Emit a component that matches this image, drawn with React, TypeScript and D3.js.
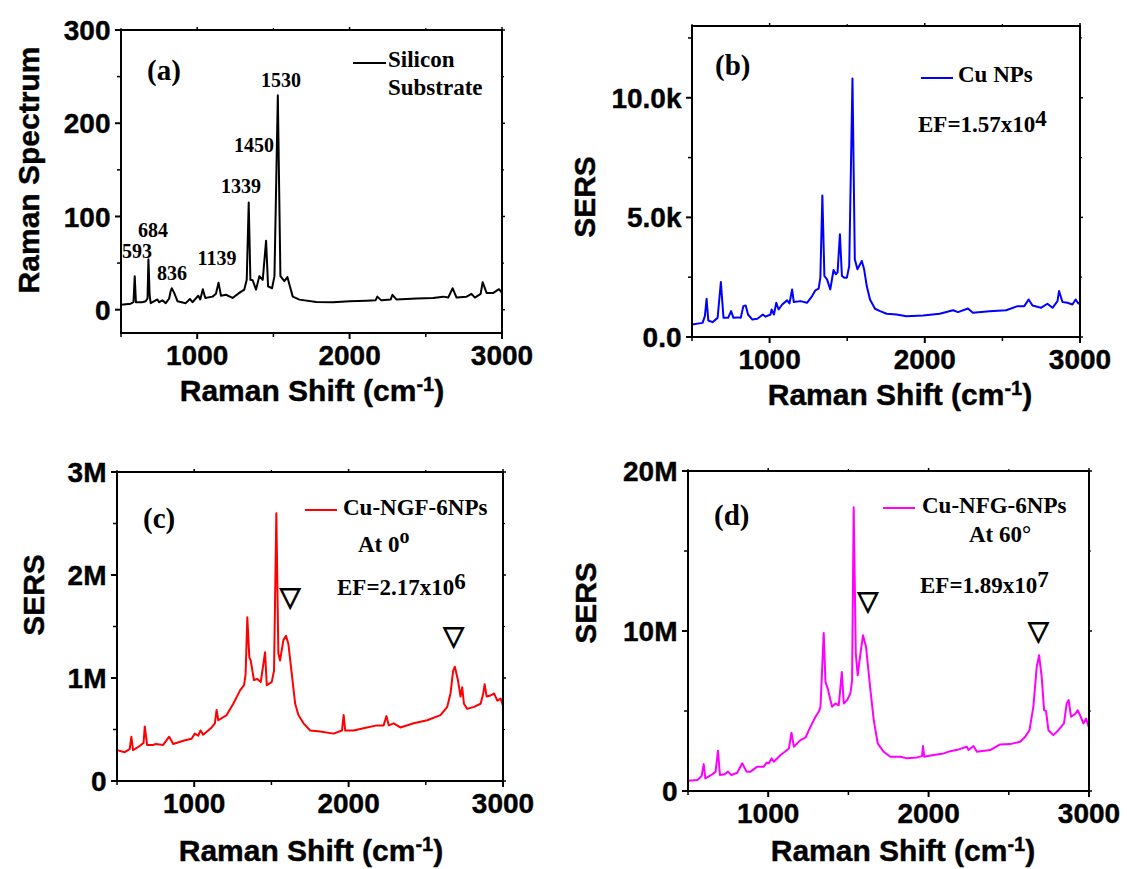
import * as d3 from "d3";

// Raman shift axis, shared by all four panels
const shiftDomain: [number, number] = [500, 3000];
const shiftTicks = [1000, 2000, 3000];
const shiftMinor = [500, 1500, 2500];

// (a) bare silicon substrate, counts
const siliconSpectrum: [number, number][] = [
  [500, 5.4], [564, 6.5], [582, 8], [590, 36], [598, 8], [640, 8], [662, 9], [674, 12],
  [680, 54], [688, 15], [695, 7], [739, 11], [750, 8], [772, 10], [794, 7], [816, 12],
  [826, 20], [833, 23], [849, 18], [871, 9], [925, 7], [952, 11.5], [969, 8], [1007, 15],
  [1020, 11], [1037, 22], [1053, 12.6], [1101, 14], [1123, 17], [1140, 29], [1156, 15],
  [1189, 16], [1232, 12.6], [1276, 18], [1309, 21.6], [1325, 32], [1338, 115], [1349, 32],
  [1364, 31.6], [1386, 21.6], [1408, 36], [1430, 32], [1452, 74], [1465, 25], [1491, 23],
  [1507, 36], [1529, 230], [1546, 36], [1572, 30.6], [1592, 35], [1605, 27], [1627, 14],
  [1671, 10.8], [1781, 8.3], [1890, 8], [2000, 9], [2110, 9.7], [2170, 10], [2182, 14],
  [2208, 10], [2270, 11], [2281, 16], [2307, 11], [2439, 12], [2548, 12.6], [2614, 14],
  [2647, 13], [2676, 23], [2702, 13], [2768, 14], [2800, 17], [2822, 13], [2860, 17],
  [2873, 29.5], [2899, 18], [2943, 18], [2980, 22], [3000, 18],
];

// (b) Cu NPs, counts
const cuSpectrum: [number, number][] = [
  [500, 520], [568, 590], [583, 870], [594, 1600], [605, 690], [632, 620], [665, 800],
  [686, 2300], [703, 800], [733, 800], [752, 1080], [767, 800], [793, 820], [814, 800],
  [831, 1290], [846, 1320], [861, 940], [889, 730], [921, 760], [957, 940], [974, 850],
  [1006, 940], [1013, 1150], [1028, 940], [1043, 1430], [1058, 1150], [1081, 1360],
  [1113, 1530], [1128, 1400], [1145, 1990], [1156, 1460], [1199, 1500], [1241, 1430],
  [1274, 1710], [1295, 1950], [1316, 2020], [1327, 2480], [1340, 5910], [1353, 2550],
  [1370, 2410], [1391, 1990], [1412, 2800], [1427, 2620], [1438, 2700], [1453, 4300],
  [1466, 2550], [1481, 2480], [1498, 2480], [1513, 2970], [1534, 10810], [1549, 3250],
  [1566, 2830], [1594, 3180], [1609, 2830], [1626, 2130], [1647, 1570], [1679, 1180],
  [1712, 1080], [1754, 970], [1818, 940], [1882, 870], [1989, 900], [2096, 970],
  [2182, 1120], [2214, 1040], [2278, 1190], [2310, 1010], [2417, 1080], [2524, 1120],
  [2598, 1290], [2641, 1290], [2669, 1570], [2694, 1320], [2748, 1220], [2790, 1390],
  [2823, 1220], [2855, 1500], [2865, 1920], [2887, 1460], [2919, 1430], [2951, 1360],
  [2972, 1570], [2989, 1400], [3000, 1420],
];

// (c) Cu-NGF-6NPs at 0 deg, millions
const ngfSpectrum: [number, number][] = [
  [500, 0.3], [550, 0.28], [582, 0.31], [593, 0.43], [604, 0.3], [647, 0.34], [672, 0.37],
  [680, 0.53], [695, 0.35], [734, 0.35], [751, 0.36], [799, 0.35], [838, 0.43], [864, 0.36],
  [929, 0.39], [983, 0.41], [1004, 0.46], [1026, 0.44], [1041, 0.49], [1058, 0.45],
  [1113, 0.52], [1134, 0.56], [1145, 0.69], [1156, 0.59], [1210, 0.64], [1253, 0.75],
  [1297, 0.88], [1323, 0.93], [1333, 1.04], [1344, 1.59], [1357, 1.2], [1366, 1.17],
  [1387, 0.98], [1409, 0.99], [1431, 0.96], [1459, 1.25], [1470, 0.93], [1502, 0.96],
  [1517, 1.07], [1532, 2.6], [1545, 1.24], [1556, 1.17], [1578, 1.37], [1595, 1.41],
  [1610, 1.33], [1632, 1.04], [1654, 0.75], [1675, 0.64], [1708, 0.56], [1751, 0.49],
  [1816, 0.48], [1903, 0.46], [1957, 0.49], [1968, 0.64], [1978, 0.49], [2032, 0.49],
  [2119, 0.52], [2184, 0.54], [2227, 0.54], [2245, 0.63], [2260, 0.54], [2292, 0.56],
  [2335, 0.52], [2422, 0.56], [2509, 0.59], [2595, 0.64], [2639, 0.72], [2660, 0.85],
  [2677, 1.07], [2688, 1.11], [2708, 0.98], [2725, 0.82], [2736, 0.91], [2747, 0.75],
  [2768, 0.7], [2812, 0.72], [2855, 0.75], [2872, 0.85], [2881, 0.94], [2894, 0.82],
  [2920, 0.83], [2942, 0.85], [2963, 0.78], [2985, 0.8], [3000, 0.73],
];

// (d) Cu-NFG-6NPs at 60 deg, millions
const nfgSpectrum: [number, number][] = [
  [500, 0.64], [558, 0.69], [585, 0.94], [598, 1.68], [608, 0.79], [651, 1.04], [672, 1.21],
  [687, 2.52], [699, 1.0], [728, 1.04], [749, 1.21], [770, 1.0], [807, 1.14], [838, 1.73],
  [865, 1.21], [890, 1.21], [932, 1.52], [973, 1.52], [990, 1.77], [1004, 1.73],
  [1021, 2.04], [1035, 1.83], [1077, 2.25], [1104, 2.45], [1129, 2.66], [1145, 3.64],
  [1160, 2.77], [1201, 3.18], [1232, 3.33], [1263, 4.01], [1295, 4.64], [1315, 4.95],
  [1326, 5.26], [1346, 9.88], [1357, 6.82], [1371, 6.4], [1398, 5.26], [1419, 5.47],
  [1440, 5.36], [1459, 7.44], [1471, 5.47], [1492, 5.68], [1512, 6.09], [1523, 6.92],
  [1533, 17.73], [1546, 8.59], [1558, 7.23], [1575, 8.59], [1591, 9.73], [1610, 9.0],
  [1633, 6.72], [1658, 4.43], [1683, 2.97], [1720, 2.45], [1761, 2.14], [1824, 2.14],
  [1865, 2.04], [1927, 2.1], [1959, 2.18], [1965, 2.81], [1973, 2.14], [2031, 2.25],
  [2093, 2.35], [2135, 2.49], [2187, 2.6], [2239, 2.77], [2249, 2.56], [2280, 2.81],
  [2301, 2.45], [2384, 2.56], [2446, 2.91], [2508, 2.93], [2571, 3.08], [2602, 3.39],
  [2629, 3.8], [2653, 5.26], [2674, 7.75], [2689, 8.48], [2705, 7.13], [2720, 5.05],
  [2732, 5.01], [2747, 3.8], [2778, 3.49], [2809, 3.8], [2844, 4.22], [2861, 5.47],
  [2873, 5.68], [2888, 4.64], [2913, 4.8], [2929, 5.05], [2944, 4.74], [2965, 4.22],
  [2982, 4.53], [2998, 4.01],
];

// peak labels of (a): text, shift and height where the label sits
const siliconPeakLabels: [string, number, number][] = [
  ["593", 605, 55], ["684", 710, 78], ["836", 835, 32], ["1139", 1130, 48],
  ["1339", 1287, 125], ["1450", 1373, 169], ["1530", 1550, 239],
];
// open triangles marking the bands in (c) and (d)
const ngfMarkers: [number, number][] = [[1621, 1.78], [2681, 1.4]];
const nfgMarkers: [number, number][] = [[1621, 11.8], [2685, 9.95]];

const SANS = "'Liberation Sans', Arial, Helvetica, sans-serif";
const SERIF = "'Liberation Serif', 'Times New Roman', Times, serif";

interface Box { left: number; right: number; top: number; bottom: number }

interface PanelProps {
  box: Box;
  yDomain: [number, number];
  yTicks: number[];
  yMinor: number[];
  yFormat: (v: number) => string;
  data: [number, number][];
  color: string;
  yTitle: string;
  yTitlePos: [number, number];
  xTitlePos: [number, number];
  children?: (x: d3.ScaleLinear<number, number>, y: d3.ScaleLinear<number, number>) => any;
}

function Panel({ box, yDomain, yTicks, yMinor, yFormat, data, color, yTitle, yTitlePos, xTitlePos, children }: PanelProps) {
  const x = d3.scaleLinear(shiftDomain, [box.left, box.right]);
  const y = d3.scaleLinear(yDomain, [box.bottom, box.top]);
  const line = d3
    .line<[number, number]>()
    .x((d) => x(d[0]))
    .y((d) => y(d[1]));

  return (
    <g>
      <path d={line(data) as string} fill="none" stroke={color} strokeWidth={2} strokeLinejoin="round" />
      <rect
        x={box.left}
        y={box.top}
        width={box.right - box.left}
        height={box.bottom - box.top}
        fill="none"
        stroke="#000"
        strokeWidth={2}
      />
      {/* bottom + top ticks */}
      {shiftTicks.map((t) => (
        <g key={"xt" + t}>
          <line x1={x(t)} x2={x(t)} y1={box.bottom} y2={box.bottom + 6} stroke="#000" strokeWidth={2} />
          <line x1={x(t)} x2={x(t)} y1={box.top} y2={box.top - 3} stroke="#000" strokeWidth={1.5} />
          <text
            x={x(t)}
            y={box.bottom + 32}
            textAnchor="middle"
            fontFamily={SANS}
            fontWeight="bold"
            fontSize={28}
            stroke="#000"
            strokeWidth={0.4}
          >
            {t}
          </text>
        </g>
      ))}
      {shiftMinor.map((t) => (
        <g key={"xm" + t}>
          <line x1={x(t)} x2={x(t)} y1={box.bottom} y2={box.bottom + 4} stroke="#000" strokeWidth={1.5} />
          <line x1={x(t)} x2={x(t)} y1={box.top} y2={box.top - 2} stroke="#000" strokeWidth={1.2} />
        </g>
      ))}
      {/* left + right ticks */}
      {yTicks.map((t) => (
        <g key={"yt" + t}>
          <line x1={box.left} x2={box.left - 6} y1={y(t)} y2={y(t)} stroke="#000" strokeWidth={2} />
          <line x1={box.right} x2={box.right + 3} y1={y(t)} y2={y(t)} stroke="#000" strokeWidth={1.5} />
          <text
            x={box.left - 10.5}
            y={y(t)}
            dy="0.36em"
            textAnchor="end"
            fontFamily={SANS}
            fontWeight="bold"
            fontSize={28}
            stroke="#000"
            strokeWidth={0.4}
          >
            {yFormat(t)}
          </text>
        </g>
      ))}
      {yMinor.map((t) => (
        <g key={"ym" + t}>
          <line x1={box.left} x2={box.left - 4} y1={y(t)} y2={y(t)} stroke="#000" strokeWidth={1.5} />
          <line x1={box.right} x2={box.right + 2} y1={y(t)} y2={y(t)} stroke="#000" strokeWidth={1.2} />
        </g>
      ))}
      <text
        transform={`translate(${yTitlePos[0]},${yTitlePos[1]}) rotate(-90)`}
        dy="0.36em"
        textAnchor="middle"
        fontFamily={SANS}
        fontWeight="bold"
        fontSize={30}
        stroke="#000"
        strokeWidth={0.4}
      >
        {yTitle}
      </text>
      <text
        x={xTitlePos[0]}
        y={xTitlePos[1]}
        textAnchor="middle"
        fontFamily={SANS}
        fontWeight="bold"
        fontSize={30}
        stroke="#000"
        strokeWidth={0.4}
      >
        Raman Shift (cm
        <tspan fontSize={20} dy={-10}>
          -1
        </tspan>
        <tspan dy={10}>)</tspan>
      </text>
      {children && children(x, y)}
    </g>
  );
}

function Legend({ x1, x2, y, color, tx, ty, label }: { x1: number; x2: number; y: number; color: string; tx: number; ty: number; label: string }) {
  return (
    <g>
      <line x1={x1} x2={x2} y1={y} y2={y} stroke={color} strokeWidth={2} />
      <text x={tx} y={ty} fontFamily={SERIF} fontWeight="bold" fontSize={23}>
        {label}
      </text>
    </g>
  );
}

const serifText = { fontFamily: SERIF, fontWeight: "bold" as const };

function Marker({ x, y }: { x: number; y: number }) {
  return (
    <text
      x={x}
      y={y}
      dy="0.3em"
      textAnchor="middle"
      fontFamily="'DejaVu Sans', sans-serif"
      fontWeight="bold"
      fontSize={27}
      stroke="#000"
      strokeWidth={1}
    >
      ▽
    </text>
  );
}

export default function App() {
  return (
    <svg
      width={1127}
      height={869}
      style={{ position: "absolute", left: 0, top: 0, background: "#fff" }}
    >
      <Panel
        box={{ left: 121, right: 502, top: 30, bottom: 333 }}
        yDomain={[-25, 300]}
        yTicks={[0, 100, 200, 300]}
        yMinor={[50, 150, 250]}
        yFormat={(v) => String(v)}
        data={siliconSpectrum}
        color="#000"
        yTitle="Raman Spectrum"
        yTitlePos={[28, 170]}
        xTitlePos={[312, 401]}
      >
        {(x, y) =>
          siliconPeakLabels.map(([t, s, v]) => (
            <text key={t} x={x(s)} y={y(v)} textAnchor="middle" {...serifText} fontSize={20}>
              {t}
            </text>
          ))
        }
      </Panel>
      <text x={147} y={80} {...serifText} fontSize={29}>(a)</text>
      <Legend x1={353} x2={386} y={63} color="#000" tx={388} ty={67} label="Silicon" />
      <text x={388} y={95} {...serifText} fontSize={23}>Substrate</text>

      <Panel
        box={{ left: 692, right: 1080, top: 26, bottom: 337 }}
        yDomain={[0, 13000]}
        yTicks={[0, 5000, 10000]}
        yMinor={[2500, 7500, 12500]}
        yFormat={(v) => (v === 0 ? "0.0" : d3.format(".1f")(v / 1000) + "k")}
        data={cuSpectrum}
        color="#0000ff"
        yTitle="SERS"
        yTitlePos={[584, 197]}
        xTitlePos={[900, 405]}
      />
      <text x={715} y={75} {...serifText} fontSize={29}>(b)</text>
      <Legend x1={921} x2={953} y={78} color="#0000ff" tx={958} ty={82} label="Cu NPs" />
      <text x={918} y={132} {...serifText} fontSize={23}>
        EF=1.57x10<tspan dy={-6}>4</tspan>
      </text>

      <Panel
        box={{ left: 117, right: 503, top: 472, bottom: 781 }}
        yDomain={[0, 3]}
        yTicks={[0, 1, 2, 3]}
        yMinor={[0.5, 1.5, 2.5]}
        yFormat={(v) => (v === 0 ? "0" : v + "M")}
        data={ngfSpectrum}
        color="#ff0000"
        yTitle="SERS"
        yTitlePos={[33, 595]}
        xTitlePos={[311, 861]}
      >
        {(x, y) => ngfMarkers.map(([s, v]) => <Marker key={s} x={x(s)} y={y(v)} />)}
      </Panel>
      <text x={143} y={528} {...serifText} fontSize={29}>(c)</text>
      <Legend x1={305} x2={337} y={510} color="#ff0000" tx={343} ty={515} label="Cu-NGF-6NPs" />
      <text x={358} y={552} {...serifText} fontSize={23}>
        At 0<tspan dy={-9} fontSize={20}>o</tspan>
      </text>
      <text x={337} y={595} {...serifText} fontSize={23}>
        EF=2.17x10<tspan dy={-6}>6</tspan>
      </text>

      <Panel
        box={{ left: 688, right: 1089, top: 471, bottom: 791 }}
        yDomain={[0, 20]}
        yTicks={[0, 10, 20]}
        yMinor={[5, 15]}
        yFormat={(v) => (v === 0 ? "0" : v + "M")}
        data={nfgSpectrum}
        color="#ff00ff"
        yTitle="SERS"
        yTitlePos={[585, 603]}
        xTitlePos={[903, 861]}
      >
        {(x, y) => nfgMarkers.map(([s, v]) => <Marker key={s} x={x(s)} y={y(v)} />)}
      </Panel>
      <text x={714} y={525} {...serifText} fontSize={29}>(d)</text>
      <Legend x1={883} x2={915} y={508} color="#ff00ff" tx={922} ty={513} label="Cu-NFG-6NPs" />
      <text x={969} y={542} {...serifText} fontSize={23}>At 60°</text>
      <text x={920} y={593} {...serifText} fontSize={23}>
        EF=1.89x10<tspan dy={-6}>7</tspan>
      </text>
    </svg>
  );
}
